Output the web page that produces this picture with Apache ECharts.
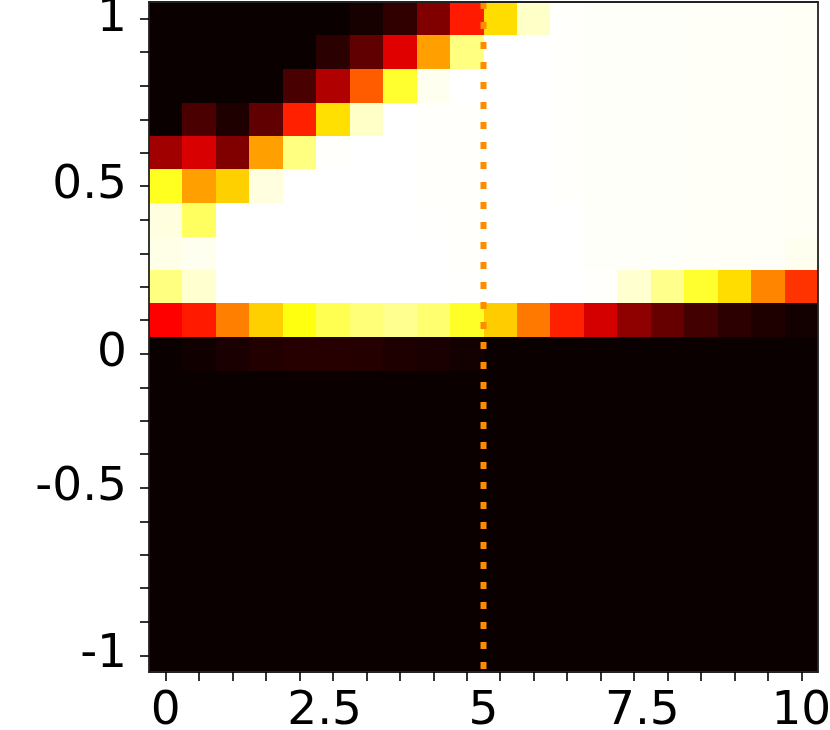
<!DOCTYPE html>
<html>
<head>
<meta charset="utf-8">
<script src="https://cdn.jsdelivr.net/npm/echarts@6/dist/echarts.min.js"></script>
<style>
html,body{margin:0;padding:0;background:#fff;}
#chart{width:830px;height:730px;}
</style>
</head>
<body>
<div id="chart"></div>
<script>
// Cell centres (columns: x, rows: y from top to bottom)
const xValues = [0, 0.526, 1.053, 1.579, 2.105, 2.632, 3.158, 3.684, 4.211, 4.737,
                 5.263, 5.789, 6.316, 6.842, 7.368, 7.895, 8.421, 8.947, 9.474, 10];
const yValues = [1, 0.895, 0.789, 0.684, 0.579, 0.474, 0.368, 0.263, 0.158, 0.053,
                 -0.053, -0.158, -0.263, -0.368, -0.474, -0.579, -0.684, -0.789, -0.895, -1];

// Tick labels
const xLabelValues = [0, 2.5, 5, 7.5, 10];
const yLabelValues = [1, 0.474, -0.053, -0.474, -1];
const yLabelTexts = ['1', '0.5', '0', '-0.5', '-1'];

// Vertical reference line
const vLineX = 5;

// Cell values, one array per row (top to bottom), 0..1
const row0  = [0, 0, 0, 0, 0, 0, 0.017, 0.056, 0.175, 0.404, 0.696, 0.945, 0.996, 0.995, 0.995, 0.994, 0.993, 0.993, 0.992, 0.99];
const row1  = [0, 0, 0, 0, 0, 0.047, 0.128, 0.319, 0.604, 0.874, 1, 1, 0.996, 0.995, 0.995, 0.994, 0.993, 0.993, 0.992, 0.99];
const row2  = [0, 0, 0, 0, 0.092, 0.247, 0.502, 0.794, 0.985, 1, 1, 1, 0.996, 0.995, 0.995, 0.994, 0.993, 0.993, 0.992, 0.99];
const row3  = [0, 0.095, 0.029, 0.128, 0.413, 0.700, 0.945, 1, 0.997, 0.997, 1, 1, 0.996, 0.995, 0.995, 0.994, 0.993, 0.993, 0.992, 0.99];
const row4  = [0.223, 0.307, 0.175, 0.604, 0.874, 0.997, 1, 1, 0.997, 0.997, 1, 1, 0.996, 0.995, 0.995, 0.994, 0.993, 0.993, 0.992, 0.99];
const row5  = [0.778, 0.604, 0.676, 0.969, 1, 1, 1, 1, 0.997, 0.997, 1, 1, 0.996, 0.995, 0.995, 0.994, 0.993, 0.993, 0.992, 0.99];
const row6  = [0.969, 0.842, 1, 1, 1, 1, 1, 1, 0.998, 0.997, 1, 1, 1, 0.995, 0.995, 0.994, 0.993, 0.993, 0.992, 0.99];
const row7  = [0.976, 0.985, 1, 1, 1, 1, 1, 1, 1, 0.997, 1, 1, 1, 0.995, 0.995, 0.994, 0.993, 0.993, 0.992, 0.985];
const row8  = [0.874, 0.953, 1, 1, 1, 1, 1, 1, 1, 0.998, 1, 1, 1, 0.997, 0.953, 0.885, 0.794, 0.696, 0.562, 0.441];
const row9  = [0.365, 0.404, 0.556, 0.676, 0.762, 0.826, 0.866, 0.889, 0.858, 0.786, 0.670, 0.545, 0.413, 0.301, 0.199, 0.137, 0.083, 0.050, 0.029, 0.0125];
const row10 = [0, 0.0096, 0.023, 0.035, 0.041, 0.042, 0.039, 0.029, 0.023, 0.0125, 0, 0, 0, 0, 0, 0, 0, 0, 0, 0];
const row11 = [0, 0, 0, 0, 0, 0, 0, 0, 0, 0, 0, 0, 0, 0, 0, 0, 0, 0, 0, 0];
const row12 = [0, 0, 0, 0, 0, 0, 0, 0, 0, 0, 0, 0, 0, 0, 0, 0, 0, 0, 0, 0];
const row13 = [0, 0, 0, 0, 0, 0, 0, 0, 0, 0, 0, 0, 0, 0, 0, 0, 0, 0, 0, 0];
const row14 = [0, 0, 0, 0, 0, 0, 0, 0, 0, 0, 0, 0, 0, 0, 0, 0, 0, 0, 0, 0];
const row15 = [0, 0, 0, 0, 0, 0, 0, 0, 0, 0, 0, 0, 0, 0, 0, 0, 0, 0, 0, 0];
const row16 = [0, 0, 0, 0, 0, 0, 0, 0, 0, 0, 0, 0, 0, 0, 0, 0, 0, 0, 0, 0];
const row17 = [0, 0, 0, 0, 0, 0, 0, 0, 0, 0, 0, 0, 0, 0, 0, 0, 0, 0, 0, 0];
const row18 = [0, 0, 0, 0, 0, 0, 0, 0, 0, 0, 0, 0, 0, 0, 0, 0, 0, 0, 0, 0];
const row19 = [0, 0, 0, 0, 0, 0, 0, 0, 0, 0, 0, 0, 0, 0, 0, 0, 0, 0, 0, 0];

const rows = [row0, row1, row2, row3, row4, row5, row6, row7, row8, row9,
              row10, row11, row12, row13, row14, row15, row16, row17, row18, row19];

// matplotlib "hot" colormap (style only)
function hot(v) {
  const r = Math.min(1, 0.0416 + v / 0.365079 * (1 - 0.0416));
  const g = Math.max(0, Math.min(1, (v - 0.365079) / (0.746032 - 0.365079)));
  const b = Math.max(0, Math.min(1, (v - 0.746032) / (1 - 0.746032)));
  const h = (c) => Math.round(c * 255);
  return 'rgb(' + h(r) + ',' + h(g) + ',' + h(b) + ')';
}
const hotColors = [];
for (let i = 0; i <= 255; i++) hotColors.push(hot(i / 255));

const data = [];
rows.forEach((row, ri) => {
  row.forEach((v, ci) => data.push([xValues[ci], yValues[ri], v]));
});

const dx = xValues[1] - xValues[0];
const dy = yValues[0] - yValues[1];
const xMin = xValues[0] - dx / 2, xMax = xValues[xValues.length - 1] + dx / 2;
const yMin = yValues[yValues.length - 1] - dy / 2, yMax = yValues[0] + dy / 2;

const FONT = 'DejaVu Sans';
const spine = { show: true, onZero: false, lineStyle: { color: '#222', width: 1.8 } };

const chart = echarts.init(document.getElementById('chart'), null, { renderer: 'canvas' });
chart.setOption({
  animation: false,
  backgroundColor: '#fff',
  grid: { left: 149, top: 2, width: 669, height: 670, containLabel: false, outerBoundsMode: 'none' },
  visualMap: {
    show: false, type: 'continuous', min: 0, max: 1, dimension: 2, seriesIndex: 0,
    inRange: { color: hotColors }
  },
  xAxis: [{
    type: 'value', min: xMin, max: xMax, z: 10,
    axisLine: spine,
    splitLine: { show: false },
    axisTick: { show: true, length: 9, customValues: xValues, lineStyle: { color: '#000', width: 1.6 } },
    axisLabel: { customValues: xLabelValues, margin: 16, color: '#000', fontFamily: FONT, fontSize: 47,
      formatter: (v) => String(v) }
  }, {
    type: 'value', position: 'top', min: xMin, max: xMax, z: 10,
    axisLine: spine, axisTick: { show: false }, axisLabel: { show: false }, splitLine: { show: false }
  }],
  yAxis: [{
    type: 'value', min: yMin, max: yMax, z: 10,
    axisLine: spine,
    splitLine: { show: false },
    axisTick: { show: true, length: 9, customValues: yValues, lineStyle: { color: '#000', width: 1.6 } },
    axisLabel: { customValues: yLabelValues, margin: 22, color: '#000', fontFamily: FONT, fontSize: 47,
      padding: [8, 0, 0, 0],
      formatter: (v) => {
        let best = 0;
        yLabelValues.forEach((lv, i) => { if (Math.abs(lv - v) < Math.abs(yLabelValues[best] - v)) best = i; });
        return yLabelTexts[best];
      } }
  }, {
    type: 'value', position: 'right', min: yMin, max: yMax, z: 10,
    axisLine: spine, axisTick: { show: false }, axisLabel: { show: false }, splitLine: { show: false }
  }],
  series: [{
    type: 'custom',
    xAxisIndex: 0, yAxisIndex: 0,
    dimensions: ['x', 'y', 'v'],
    encode: { x: 0, y: 1 },
    data: data,
    z: 2,
    renderItem: function (params, api) {
      const x = api.value(0), y = api.value(1);
      const p0 = api.coord([x - dx / 2, y + dy / 2]);
      const p1 = api.coord([x + dx / 2, y - dy / 2]);
      const x0 = Math.round(p0[0]), y0 = Math.round(p0[1]);
      const x1 = Math.round(p1[0]), y1 = Math.round(p1[1]);
      return {
        type: 'rect',
        shape: { x: x0, y: y0, width: x1 - x0, height: y1 - y0 },
        style: { fill: api.visual('color') }
      };
    }
  }, {
    type: 'line',
    xAxisIndex: 0, yAxisIndex: 0,
    data: [[vLineX, yMax], [vLineX, yMin]],
    symbol: 'none',
    z: 5,
    lineStyle: { color: '#ff8c00', width: 6, type: [7, 13], cap: 'butt' }
  }]
});
</script>
</body>
</html>
